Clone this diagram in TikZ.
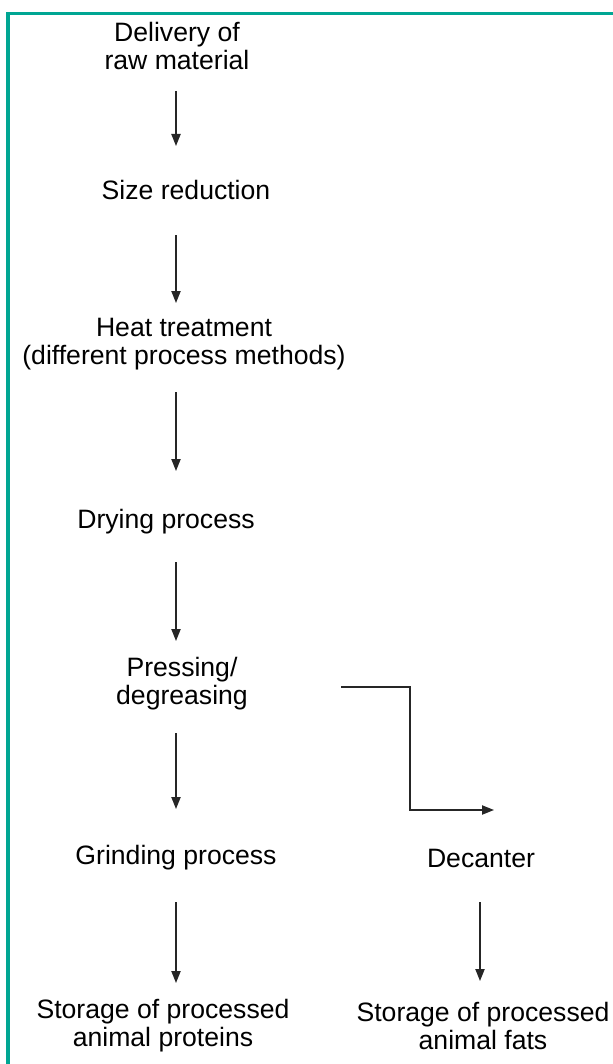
\documentclass[tikz,border=0pt]{standalone}
\usepackage{fontspec}
\setmainfont{Liberation Sans}
\usetikzlibrary{arrows.meta}
\definecolor{frameteal}{RGB}{0,166,147}
\begin{document}
\begin{tikzpicture}[x=0.5pt,y=-0.5pt,
  lbl/.style={align=center,font=\fontsize{13.3}{14}\selectfont,inner sep=0pt},
  flow/.style={-{Triangle[length=6pt,width=4.6pt]},line width=0.75pt,draw=black!85}]
\useasboundingbox (0,0) rectangle (612,1064);
\draw[frameteal,line width=1.6pt] (8,13.5) rectangle (660,1110);
% nodes
\node[lbl] (deliv) at (177,45.5) {Delivery of\\raw material};
\node[lbl] (size) at (186,190) {Size reduction};
\node[lbl] (heat) at (184,344) {Heat treatment\\(different process methods)};
\node[lbl] (dry) at (166,522) {Drying process};
\node[lbl] (press) at (182,684) {Pressing/\\degreasing};
\node[lbl] (grind) at (176,858) {Grinding process};
\node[lbl] (dec) at (481,858) {Decanter};
\node[lbl] (stp) at (163,1026) {Storage of processed\\animal proteins};
\node[lbl] (stf) at (483,1026) {Storage of processed\\animal fats};
% connector ends
\coordinate (a1s) at (176,91);  \coordinate (a1e) at (176,146);
\coordinate (a2s) at (176,235); \coordinate (a2e) at (176,303);
\coordinate (a3s) at (176,392); \coordinate (a3e) at (176,471);
\coordinate (a4s) at (176,562); \coordinate (a4e) at (176,641);
\coordinate (a5s) at (176,733); \coordinate (a5e) at (176,809);
\coordinate (a6s) at (176,902); \coordinate (a6e) at (176,983);
\coordinate (a7s) at (480,902); \coordinate (a7e) at (480,981);
\coordinate (bs) at (341,687); \coordinate (bc1) at (410,687);
\coordinate (bc2) at (410,810); \coordinate (be) at (494,810);
% connectors
\draw[flow] (a1s) -- (a1e);
\draw[flow] (a2s) -- (a2e);
\draw[flow] (a3s) -- (a3e);
\draw[flow] (a4s) -- (a4e);
\draw[flow] (a5s) -- (a5e);
\draw[flow] (a6s) -- (a6e);
\draw[flow] (a7s) -- (a7e);
\draw[flow] (bs) -- (bc1) -- (bc2) -- (be);
\end{tikzpicture}
\end{document}
